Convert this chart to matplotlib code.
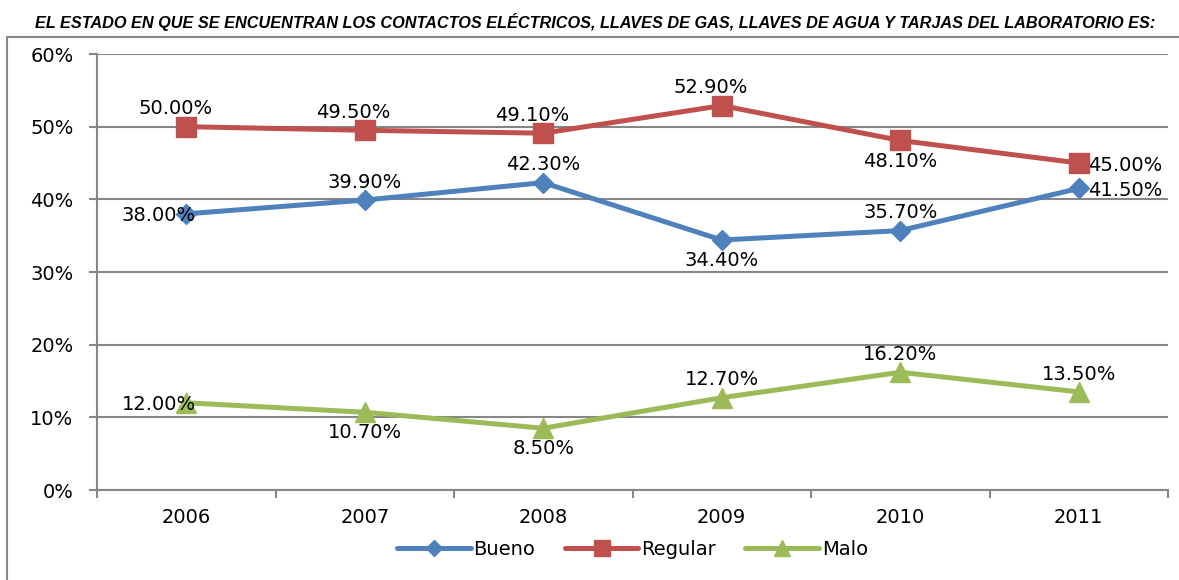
import matplotlib
matplotlib.use("Agg")
import matplotlib.pyplot as plt
from matplotlib.patches import Rectangle
from matplotlib.ticker import FuncFormatter

years = ["2006", "2007", "2008", "2009", "2010", "2011"]
bueno = [38.0, 39.9, 42.3, 34.4, 35.7, 41.5]
regular = [50.0, 49.5, 49.1, 52.9, 48.1, 45.0]
malo = [12.0, 10.7, 8.5, 12.7, 16.2, 13.5]

# where each data label sits: l=left, r=right, a=above, b=below
pos_bueno = ["l", "a", "a", "b", "a", "r"]
pos_regular = ["a", "a", "a", "a", "b", "r"]
pos_malo = ["l", "b", "b", "a", "a", "a"]

title = "EL ESTADO EN QUE SE ENCUENTRAN LOS CONTACTOS ELÉCTRICOS, LLAVES DE GAS, LLAVES DE AGUA Y TARJAS DEL LABORATORIO ES:"

grid_c = "#868686"
fs = 14
fig = plt.figure(figsize=(11.79, 5.80), dpi=100)
ax = fig.add_axes([97 / 1179, 1 - 490 / 580, (1168 - 97) / 1179, (490 - 54) / 580])

x = list(range(len(years)))
series = [
    ("Bueno", bueno, "#4F81BD", "D", 10.5, pos_bueno, 0),
    ("Regular", regular, "#C0504D", "s", 14, pos_regular, -8),
    ("Malo", malo, "#9BBB59", "^", 15, pos_malo, 0),
]
for name, vals, col, mk, ms, pos, dx in series:
    ax.plot(x, vals, color=col, lw=3.6, marker=mk, ms=ms, label=name,
            solid_capstyle="round", zorder=3)
    for xi, v, p in zip(x, vals, pos):
        s = "%.2f%%" % v
        if p == "l":
            ax.annotate(s, (xi, v), xytext=(7, -1.5), textcoords="offset points",
                        ha="right", va="center", fontsize=fs, zorder=4)
        elif p == "r":
            ax.annotate(s, (xi, v), xytext=(7, -1.5), textcoords="offset points",
                        ha="left", va="center", fontsize=fs, zorder=4)
        elif p == "a":
            ax.annotate(s, (xi, v), xytext=(dx, 6), textcoords="offset points",
                        ha="center", va="bottom", fontsize=fs, zorder=4)
        else:
            ax.annotate(s, (xi, v), xytext=(0, -8), textcoords="offset points",
                        ha="center", va="top", fontsize=fs, zorder=4)

ax.set_xlim(-0.5, len(years) - 0.5)
ax.set_ylim(0, 60)
ax.set_yticks(range(0, 61, 10))
ax.yaxis.set_major_formatter(FuncFormatter(lambda v, p: "%d%%" % v))
ax.set_xticks(x)
ax.set_xticklabels(years)
ax.set_xticks([i - 0.5 for i in range(len(years) + 1)], minor=True)
ax.tick_params(axis="x", which="major", length=0, pad=13, labelsize=fs)
ax.tick_params(axis="x", which="minor", length=6, color=grid_c, width=1.5)
ax.tick_params(axis="y", length=6, color=grid_c, width=1.5, labelsize=fs, pad=11)
ax.yaxis.grid(True, color=grid_c, lw=1.5)
ax.set_axisbelow(True)
for s in ["top", "right"]:
    ax.spines[s].set_visible(False)
for s in ["left", "bottom"]:
    ax.spines[s].set_color(grid_c)
    ax.spines[s].set_linewidth(1.5)

leg = ax.legend(loc="center", bbox_to_anchor=(0.5, -0.137), ncol=3, frameon=False,
                fontsize=fs, handlelength=3.8, columnspacing=1.5, handletextpad=0.15,
                markerscale=0.8)

fig.patches.append(Rectangle((7 / 1179, -0.1), 1.1, 1 - 37 / 580 + 0.1,
                             transform=fig.transFigure, fill=False,
                             edgecolor=grid_c, lw=1.5))

t = fig.text(595 / 1179, 1 - 22 / 580, title, ha="center", va="center",
             family=["Liberation Sans", "DejaVu Sans"],
             fontweight="bold", style="italic", fontsize=12)
# shrink title to fit the width it has in the reference (~1120 px)
r = fig.canvas.get_renderer()
w = t.get_window_extent(renderer=r).width
t.set_fontsize(12 * 1120 / w)

fig.savefig("out.png", dpi=100)
